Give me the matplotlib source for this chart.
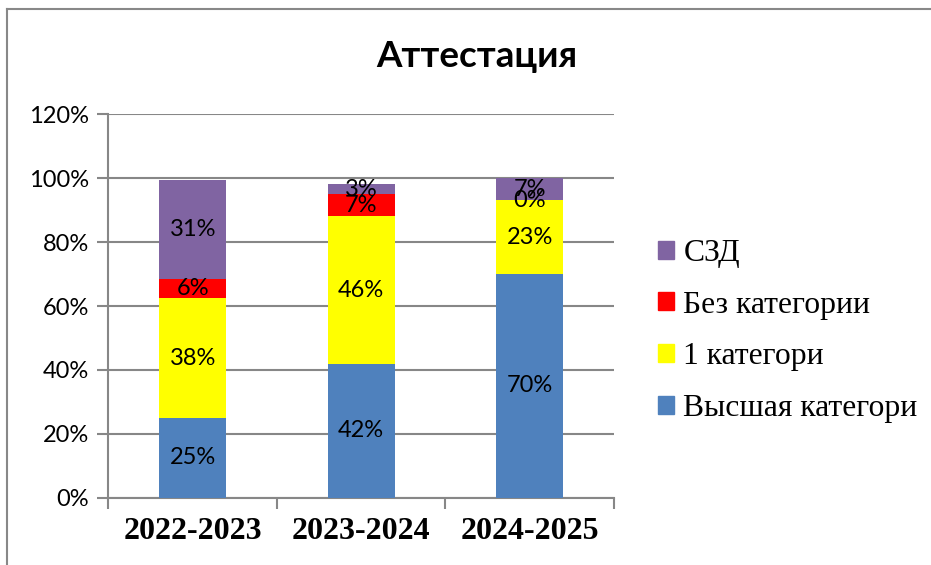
import numpy as np
import matplotlib.pyplot as plt
from matplotlib.patches import Patch
from matplotlib.lines import Line2D

years = ["2022-2023", "2023-2024", "2024-2025"]
series = ["Высшая категори", "1 категори", "Без категории", "СЗД"]
vysshaya = [25, 42, 70]
pervaya = [37.5, 46, 23]
bez_kat = [6, 7, 0]
szd = [31, 3, 7]
colors = ["#4f81bd", "#ffff00", "#ff0000", "#8064a2"]

values = [vysshaya, pervaya, bez_kat, szd]

fig = plt.figure(figsize=(9.31, 5.65), dpi=100)
ax = fig.add_axes([0.1165, 0.1186, 0.543, 0.6796])

x = np.arange(len(years))
bottom = np.zeros(len(years))
for vals, col in zip(values, colors):
    vals = np.array(vals, dtype=float)
    ax.bar(x, vals, 0.4, bottom=bottom, color=col, zorder=3)
    for xi, b, v in zip(x, bottom, vals):
        ax.text(xi, b + v / 2, "%d%%" % round(v + 1e-9), ha="center", va="center",
                fontsize=17, family="Lato", zorder=4)
    bottom += vals

grid_col = "#878787"
ax.set_xlim(-0.5, 2.5)
ax.set_ylim(0, 120)
ax.set_yticks(np.arange(0, 121, 20))
ax.set_yticklabels(["%d%%" % v for v in range(0, 121, 20)], fontsize=17, family="Lato")
ax.yaxis.grid(True, color=grid_col, lw=1.5, zorder=0)
ax.set_xticks(x)
ax.set_xticklabels(years, fontsize=23, family="Liberation Serif", fontweight="bold")
ax.set_xticks([-0.5, 0.5, 1.5, 2.5], minor=True)
ax.tick_params(axis="x", which="major", length=0, pad=14)
ax.tick_params(axis="x", which="minor", length=8, color=grid_col, width=1.5)
ax.tick_params(axis="y", length=8, color=grid_col, width=1.5, pad=6)
for s in ["top", "right"]:
    ax.spines[s].set_visible(False)
for s in ["left", "bottom"]:
    ax.spines[s].set_color(grid_col)
    ax.spines[s].set_linewidth(1.5)

fig.text(0.512, 0.9, "Аттестация", ha="center", va="center", fontsize=26.5,
         family="Lato", fontweight="bold")

handles = [Patch(color=c) for c in colors][::-1]
fig.legend(handles, series[::-1], loc="center left", bbox_to_anchor=(0.7068, 0.414),
           frameon=False, prop={"family": "Liberation Serif", "size": 22.8},
           handlelength=0.5, handleheight=0.5, handletextpad=0.3,
           labelspacing=0.72, borderpad=0, borderaxespad=0)

# chart frame
fig.add_artist(Line2D([0.0075, 1], [0.984, 0.984], color="#888888", lw=1.5))
fig.add_artist(Line2D([0.0075, 0.0075], [0, 0.984], color="#888888", lw=1.5))

fig.savefig("out.png", dpi=100)
